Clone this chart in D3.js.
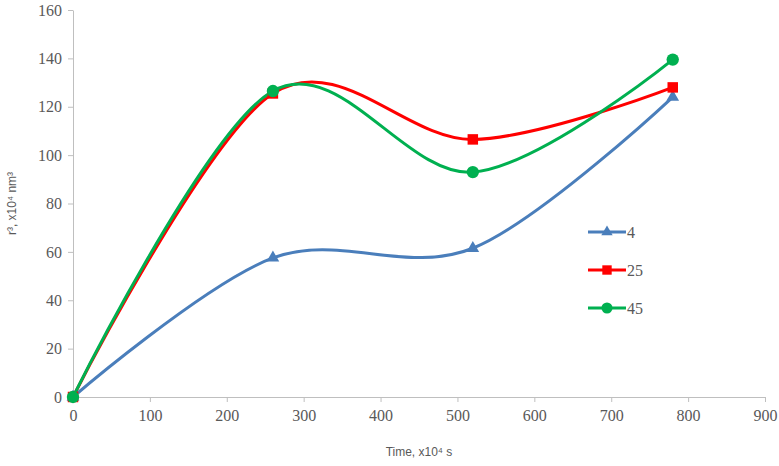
<!DOCTYPE html>
<html>
<head>
  <style>
    body { margin: 0; background: #fff; }
    .tick text { font-family: "Liberation Serif", serif; font-size: 16px; fill: #595959; }
    .axis path, .axis line { stroke: #bfbfbf; }
    .title { font-family: "Liberation Sans", Arial, sans-serif; font-size: 12px; fill: #595959; }
    .leg { font-family: "Liberation Serif", serif; font-size: 16px; fill: #595959; }
  </style>
</head>
<body>
  <svg width="779" height="466"></svg>
  <script src="https://d3js.org/d3.v7.min.js"></script>
  <script>
    // values
    const times = [0, 260, 520, 780];
    const names = ["4", "25", "45"];
    const s4 = [0, 57.5, 61.5, 124];
    const s25 = [0, 125.5, 106.5, 128];
    const s45 = [0, 126.5, 93, 139.5];
    const xTicks = [0, 100, 200, 300, 400, 500, 600, 700, 800, 900];
    const yTicks = [0, 20, 40, 60, 80, 100, 120, 140, 160];

    const series = [
      {name: names[0], values: s4, color: "#4a7ebb", symbol: d3.symbolTriangle, size: 70},
      {name: names[1], values: s25, color: "#ff0000", symbol: d3.symbolSquare, size: 110},
      {name: names[2], values: s45, color: "#00b050", symbol: d3.symbolCircle, size: 120}
    ];

    const svg = d3.select("svg"),
          margin = {top: 10, right: 14, bottom: 69, left: 73},
          width = +svg.attr("width") - margin.left - margin.right,
          height = +svg.attr("height") - margin.top - margin.bottom;

    const x = d3.scaleLinear().domain([0, 900]).range([0, width]),
          y = d3.scaleLinear().domain([0, 160]).range([height, 0]);

    const g = svg.append("g")
      .attr("transform", "translate(" + margin.left + "," + margin.top + ")");

    // axes
    g.append("g")
      .attr("class", "axis")
      .attr("transform", "translate(0," + height + ")")
      .call(d3.axisBottom(x).tickValues(xTicks).tickSize(5).tickSizeOuter(0).tickPadding(8));

    g.append("g")
      .attr("class", "axis")
      .call(d3.axisLeft(y).tickValues(yTicks).tickSize(5).tickSizeOuter(0).tickPadding(6));

    g.selectAll(".axis .domain").attr("stroke", "#bfbfbf");

    // lines
    const line = d3.line()
      .x((d, i) => x(times[i]))
      .y(d => y(d))
      .curve(d3.curveCardinal.tension(0));

    series.forEach(function(s) {
      g.append("path")
        .attr("d", line(s.values))
        .attr("fill", "none")
        .attr("stroke", s.color)
        .attr("stroke-width", 3);
    });

    series.forEach(function(s) {
      g.selectAll(null)
        .data(s.values)
        .enter()
        .append("path")
        .attr("d", d3.symbol().type(s.symbol).size(s.size))
        .attr("transform", (d, i) => "translate(" + x(times[i]) + "," + y(d) + ")")
        .attr("fill", s.color);
    });

    // legend
    const leg = svg.append("g").attr("transform", "translate(588,232)");
    series.forEach(function(s, i) {
      const row = leg.append("g").attr("transform", "translate(0," + i * 38 + ")");
      row.append("line")
        .attr("x1", 0).attr("x2", 38)
        .attr("stroke", s.color).attr("stroke-width", 3);
      row.append("path")
        .attr("d", d3.symbol().type(s.symbol).size(s.size * 0.8))
        .attr("transform", "translate(19,0)")
        .attr("fill", s.color);
      row.append("text")
        .attr("class", "leg")
        .attr("x", 39).attr("dy", "0.35em")
        .text(s.name);
    });

    // axis titles
    svg.append("text")
      .attr("class", "title")
      .attr("x", margin.left + width / 2)
      .attr("y", 456)
      .attr("text-anchor", "middle")
      .text("Time, x10\u2074 s");

    svg.append("text")
      .attr("class", "title")
      .attr("transform", "translate(16," + (margin.top + height / 2) + ") rotate(-90)")
      .attr("text-anchor", "middle")
      .text("r\u00b3, x10\u2074 nm\u00b3");
  </script>
</body>
</html>
